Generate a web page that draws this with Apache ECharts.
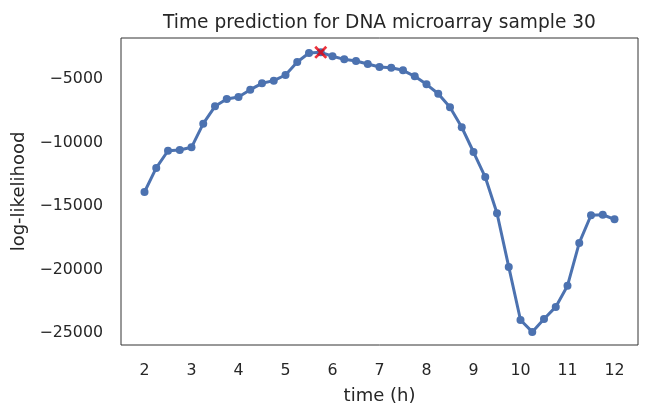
<!DOCTYPE html>
<html>
<head>
<meta charset="utf-8">
<script src="https://cdn.jsdelivr.net/npm/echarts@6/dist/echarts.min.js"></script>
<style>
  html, body { margin: 0; padding: 0; background: #fff; }
  #chart { width: 651px; height: 418px; }
</style>
</head>
<body>
<div id="chart"></div>
<script>
  // time points (hours)
  const times = [];
  for (let i = 0; i <= 40; i++) times.push(2 + i * 0.25);

  const logLik = [
    -13900, -12000, -10650, -10590, -10380, -8520, -7150, -6575, -6420, -5840,
    -5340, -5130, -4685, -3660, -2950, -2900, -3210, -3450, -3580, -3820,
    -4055, -4110, -4315, -4790, -5420, -6160, -7230, -8800, -10750, -12720,
    -15575, -19800, -23980, -24920, -23900, -22950, -21280, -17910, -15730, -15690,
    -16050
  ];

  const bestTime = 5.75;
  const bestValue = -2900;

  const xTicks = [2, 3, 4, 5, 6, 7, 8, 9, 10, 11, 12];
  const yTicks = [-25000, -20000, -15000, -10000, -5000];

  const font = 'DejaVu Sans';
  const textColor = '#262626';

  const chart = echarts.init(document.getElementById('chart'));

  const option = {
    animation: false,
    title: {
      text: 'Time prediction for DNA microarray sample 30',
      left: 158,
      top: 9,
      textStyle: { fontFamily: font, fontSize: 18.6, fontWeight: 'normal', color: textColor }
    },
    grid: {
      left: 121,
      right: 13,
      top: 38,
      bottom: 73,
      show: true,
      borderColor: '#333',
      borderWidth: 1
    },
    xAxis: {
      type: 'value',
      min: 1.5,
      max: 12.5,
      name: 'time (h)',
      nameLocation: 'middle',
      nameGap: 42,
      nameTextStyle: { fontFamily: font, fontSize: 18, color: textColor },
      axisLine: { show: false },
      axisTick: { show: false },
      splitLine: { show: false },
      axisLabel: {
        customValues: xTicks,
        margin: 18,
        fontFamily: font,
        fontSize: 15.8,
        color: textColor
      }
    },
    yAxis: {
      type: 'value',
      min: -25950,
      max: -1770,
      name: 'log-likelihood',
      nameLocation: 'middle',
      nameGap: 89,
      nameTextStyle: { fontFamily: font, fontSize: 18, color: textColor },
      axisLine: { show: false },
      axisTick: { show: false },
      splitLine: { show: false },
      axisLabel: {
        customValues: yTicks,
        margin: 18,
        fontFamily: font,
        fontSize: 15.8,
        color: textColor,
        formatter: v => String(v).replace('-', '\u2212')
      }
    },
    series: [
      {
        type: 'line',
        data: times.map((t, i) => [t, logLik[i]]),
        symbol: 'circle',
        symbolSize: 8,
        lineStyle: { color: '#4c72b0', width: 3 },
        itemStyle: { color: '#4c72b0' },
        z: 2
      },
      {
        type: 'scatter',
        data: [[bestTime, bestValue]],
        symbol: 'path://M0,1.5 L1.5,0 L5,3.5 L8.5,0 L10,1.5 L6.5,5 L10,8.5 L8.5,10 L5,6.5 L1.5,10 L0,8.5 L3.5,5 Z',
        symbolSize: 13,
        itemStyle: { color: '#e8000b' },
        z: 3
      }
    ]
  };

  chart.setOption(option);
</script>
</body>
</html>
